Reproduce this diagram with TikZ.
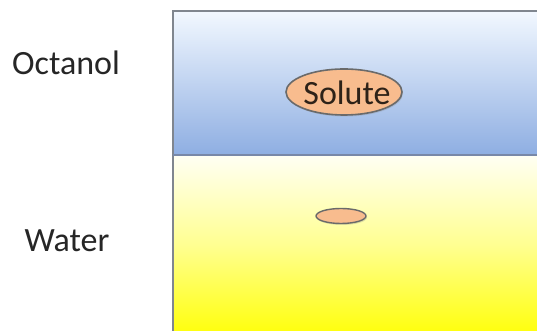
\documentclass[tikz,border=0pt]{standalone}
\usepackage{fontspec}
\setmainfont{Carlito}
\usetikzlibrary{shapes.geometric,shadows}
\definecolor{octtop}{HTML}{F2F8FF}
\definecolor{octbot}{HTML}{8EAEE2}
\definecolor{wattop}{HTML}{FFFFF4}
\definecolor{watmid}{HTML}{FFFF90}
\definecolor{watbot}{HTML}{FFFF08}
\definecolor{frame}{HTML}{80868F}
\definecolor{divider}{HTML}{7888A8}
\definecolor{solfill}{HTML}{F8BC8E}
\definecolor{solline}{HTML}{6A6A6A}
\definecolor{soltxt}{HTML}{2E2218}
\tikzset{
  label/.style={font=\fontsize{34}{40}\selectfont, text=black!85, inner sep=0pt},
  solute/.style={ellipse, draw=solline, line width=1.6pt, fill=solfill, inner sep=0pt,
     drop shadow={shadow xshift=1pt, shadow yshift=-1.5pt, opacity=0.25}},
}
\begin{document}
\begin{tikzpicture}[x=1pt,y=1pt]
\useasboundingbox (0,0) rectangle (537,331);
\clip (0,0) rectangle (537,331);
\fill[white] (0,0) rectangle (537,331);
% layers
\shade[top color=octtop, bottom color=octbot] (173,176) rectangle (545,320);
\shade[top color=wattop, bottom color=watbot, middle color=watmid] (173,-5) rectangle (545,176);
\draw[frame, line width=2.8pt] (173,-5) -- (173,320) -- (545,320);
\draw[divider, line width=2.6pt] (173,176) -- (545,176);
% labels
\node[label] (oct) at (66,268) {Octanol};
\node[label] (wat) at (67,90) {Water};
% solutes
\node[solute, minimum width=116pt, minimum height=46pt] (sol) at (344,239) {};
\node[label, text=soltxt] (soltext) at (347,238) {Solute};
\node[solute, minimum width=50pt, minimum height=15pt, line width=1.4pt] (small) at (341,115) {};
\end{tikzpicture}
\end{document}
